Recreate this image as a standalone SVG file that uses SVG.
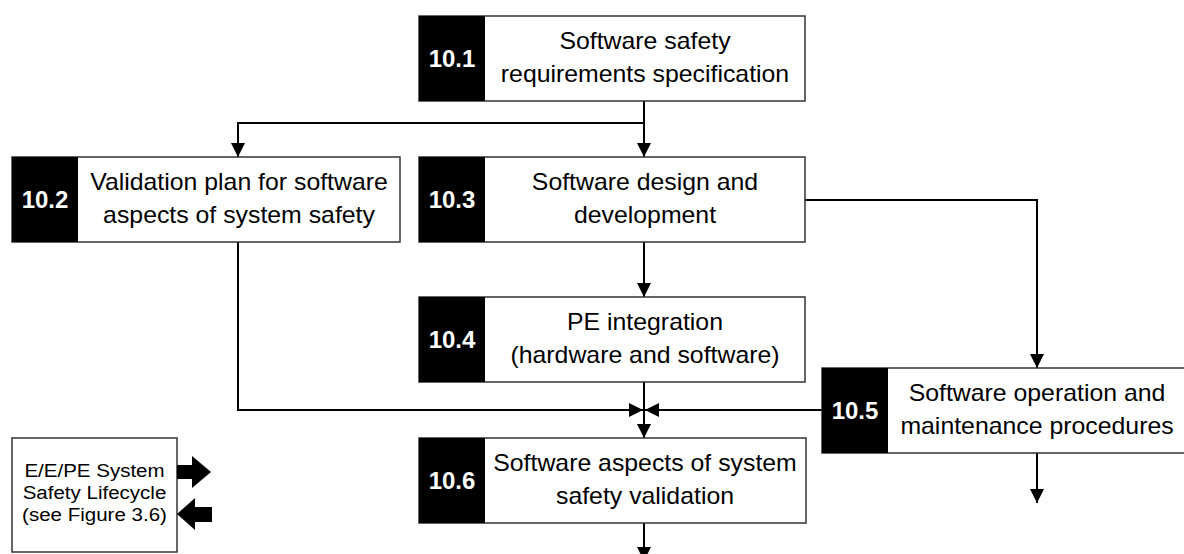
<svg xmlns="http://www.w3.org/2000/svg" width="1184" height="554" viewBox="0 0 1184 554">
<style>
.box{fill:#fff;stroke:#333;stroke-width:1.5}
.num{fill:#000}
.nt{font-family:"Liberation Sans",Arial,sans-serif;font-weight:bold;font-size:24px;fill:#fff;text-anchor:middle}
.t{font-family:"Liberation Sans",Arial,sans-serif;font-size:23px;fill:#000;text-anchor:middle}
.st{font-family:"Liberation Sans",Arial,sans-serif;font-size:19px;fill:#000;text-anchor:middle}
.ln{fill:none;stroke:#000;stroke-width:2}
</style>
<defs>
<marker id="ah" markerUnits="userSpaceOnUse" markerWidth="15" markerHeight="15" refX="14" refY="7" orient="auto" viewBox="0 0 15 15">
<path d="M0,0 L14,7 L0,14 Z" fill="#000"/>
</marker>
</defs>
<rect width="1184" height="554" fill="#fff"/>

<g id="connectors">
<path class="ln" d="M644,101 V157" marker-end="url(#ah)"/>
<path class="ln" d="M644,123 H238 V157" marker-end="url(#ah)"/>
<path class="ln" d="M644,242 V297" marker-end="url(#ah)"/>
<path class="ln" d="M805,200 H1037 V368" marker-end="url(#ah)"/>
<path class="ln" d="M238,242 V410 H643" marker-end="url(#ah)"/>
<path class="ln" d="M822,410 H645" marker-end="url(#ah)"/>
<path class="ln" d="M644,382 V438" marker-end="url(#ah)"/>
<path class="ln" d="M1037,453 V503" marker-end="url(#ah)"/>
<path class="ln" d="M644,523 V561" marker-end="url(#ah)"/>
</g>

<g id="n10_1">
<rect class="box" x="419" y="16" width="386" height="85"/>
<rect class="num" x="419" y="16" width="66" height="85"/>
<text class="nt" x="452" y="67">10.1</text>
<text class="t" transform="translate(645,0) scale(1.08,1)" x="0" y="49.5">Software safety</text>
<text class="t" transform="translate(645,0) scale(1.08,1)" x="0" y="82.2">requirements specification</text>
</g>

<g id="n10_2">
<rect class="box" x="12" y="157" width="388" height="85"/>
<rect class="num" x="12" y="157" width="66" height="85"/>
<text class="nt" x="45" y="208">10.2</text>
<text class="t" transform="translate(239,0) scale(1.08,1)" x="0" y="190.5">Validation plan for software</text>
<text class="t" transform="translate(239,0) scale(1.08,1)" x="0" y="223.2">aspects of system safety</text>
</g>

<g id="n10_3">
<rect class="box" x="419" y="157" width="386" height="85"/>
<rect class="num" x="419" y="157" width="66" height="85"/>
<text class="nt" x="452" y="208">10.3</text>
<text class="t" transform="translate(645,0) scale(1.08,1)" x="0" y="190.5">Software design and</text>
<text class="t" transform="translate(645,0) scale(1.08,1)" x="0" y="223.2">development</text>
</g>

<g id="n10_4">
<rect class="box" x="419" y="297" width="386" height="85"/>
<rect class="num" x="419" y="297" width="66" height="85"/>
<text class="nt" x="452" y="348">10.4</text>
<text class="t" transform="translate(645,0) scale(1.08,1)" x="0" y="330.5">PE integration</text>
<text class="t" transform="translate(645,0) scale(1.08,1)" x="0" y="363.2">(hardware and software)</text>
</g>

<g id="n10_5">
<rect class="box" x="822" y="368" width="366" height="85"/>
<rect class="num" x="822" y="368" width="66" height="85"/>
<text class="nt" x="855" y="419">10.5</text>
<text class="t" transform="translate(1037,0) scale(1.08,1)" x="0" y="401.5">Software operation and</text>
<text class="t" transform="translate(1037,0) scale(1.08,1)" x="0" y="434.2">maintenance procedures</text>
</g>

<g id="n10_6">
<rect class="box" x="419" y="438" width="387" height="85"/>
<rect class="num" x="419" y="438" width="66" height="85"/>
<text class="nt" x="452" y="489">10.6</text>
<text class="t" transform="translate(645,0) scale(1.08,1)" x="0" y="471.5">Software aspects of system</text>
<text class="t" transform="translate(645,0) scale(1.08,1)" x="0" y="504.2">safety validation</text>
</g>

<g id="lifecycle">
<rect class="box" x="12" y="438" width="165" height="114"/>
<text class="st" transform="translate(94.5,0) scale(1.08,1)" x="0" y="477.3">E/E/PE System</text>
<text class="st" transform="translate(94.5,0) scale(1.08,1)" x="0" y="499">Safety Lifecycle</text>
<text class="st" transform="translate(94.5,0) scale(1.08,1)" x="0" y="520.7">(see Figure 3.6)</text>
<path d="M177,465 H192 V456 L211,472 L192,488 V479 H177 Z" fill="#000"/>
<path d="M177,514 L195,498 V507 H212 V522 H195 V530 Z" fill="#000"/>
</g>
</svg>
